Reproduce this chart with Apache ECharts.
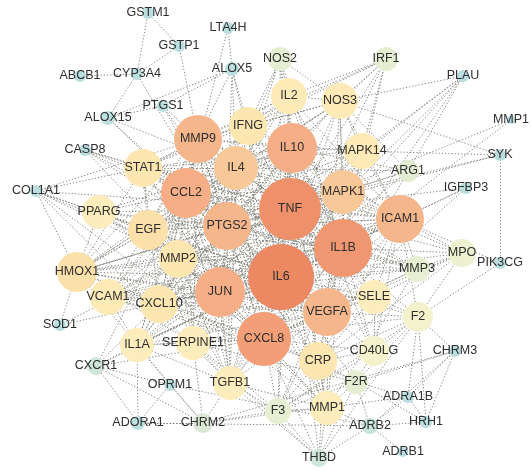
<!DOCTYPE html>
<html>
<head>
<meta charset="utf-8">
<script src="https://cdn.jsdelivr.net/npm/echarts@6/dist/echarts.min.js"></script>
<style>
html,body{margin:0;padding:0;background:#fff;}
#chart{width:531px;height:471px;}
</style>
</head>
<body>
<div id="chart"></div>
<script>
// Node table: [id, label, x, y, degree]
const geneNodes = [
  ["GSTM1","GSTM1",148,13,6],
  ["LTA4H","LTA4H",228,28,6],
  ["GSTP1","GSTP1",179,46,6],
  ["ALOX5","ALOX5",232,69,8],
  ["ABCB1","ABCB1",80,76,6],
  ["CYP3A4","CYP3A4",137,74,6],
  ["PTGS1","PTGS1",163,106,6],
  ["ALOX15","ALOX15",108,118,8],
  ["CASP8","CASP8",85,150,6],
  ["COL1A1","COL1A1",36,191,6],
  ["NOS2","NOS2",280,59,18],
  ["IRF1","IRF1",386,59,18],
  ["PLAU","PLAU",463,76,6],
  ["IL2","IL2",289,96,30],
  ["NOS3","NOS3",340,101,30],
  ["MMP1_top","MMP1",511,120,2],
  ["SYK","SYK",500,155,6],
  ["MMP9","MMP9",198,139,42],
  ["IFNG","IFNG",248,126,32],
  ["IL10","IL10",292,148,44],
  ["MAPK14","MAPK14",362,151,30],
  ["IL4","IL4",236,168,38],
  ["ARG1","ARG1",408,171,16],
  ["IGFBP3","IGFBP3",466,188,6],
  ["STAT1","STAT1",143,168,32],
  ["CCL2","CCL2",186,193,44],
  ["TNF","TNF",290,209,56],
  ["MAPK1","MAPK1",343,192,38],
  ["ICAM1","ICAM1",400,219,42],
  ["PPARG","PPARG",99,212,28],
  ["EGF","EGF",148,230,34],
  ["PTGS2","PTGS2",227,226,42],
  ["IL1B","IL1B",343,248,52],
  ["MPO","MPO",462,253,22],
  ["PIK3CG","PIK3CG",500,263,6],
  ["MMP3","MMP3",417,269,20],
  ["HMOX1","HMOX1",77,272,34],
  ["MMP2","MMP2",178,259,32],
  ["IL6","IL6",281,277,60],
  ["JUN","JUN",220,292,44],
  ["VEGFA","VEGFA",327,312,42],
  ["SELE","SELE",374,297,28],
  ["VCAM1","VCAM1",108,297,30],
  ["CXCL10","CXCL10",159,304,32],
  ["SOD1","SOD1",60,325,6],
  ["F2","F2",418,317,24],
  ["IL1A","IL1A",137,345,28],
  ["SERPINE1","SERPINE1",193,343,28],
  ["CXCL8","CXCL8",264,339,48],
  ["CD40LG","CD40LG",374,351,24],
  ["CHRM3","CHRM3",455,351,6],
  ["CXCR1","CXCR1",96,366,12],
  ["CRP","CRP",318,361,32],
  ["OPRM1","OPRM1",170,385,6],
  ["TGFB1","TGFB1",230,383,28],
  ["F2R","F2R",356,382,18],
  ["ADRA1B","ADRA1B",408,397,6],
  ["ADORA1","ADORA1",138,423,8],
  ["CHRM2","CHRM2",203,423,14],
  ["F3","F3",278,411,20],
  ["MMP1","MMP1",327,408,28],
  ["HRH1","HRH1",426,422,6],
  ["ADRB2","ADRB2",370,426,10],
  ["ADRB1","ADRB1",403,452,4],
  ["THBD","THBD",319,458,12]
];

// Interactions: "SOURCE: target target ..."
const interactions = [
  "TNF: IL6 IL1B CXCL8 IL10 VEGFA JUN CCL2 PTGS2 MMP9 ICAM1 MAPK1 IL4 IL2 IFNG NOS3 NOS2 MAPK14 STAT1 EGF MMP2 HMOX1 VCAM1 CXCL10 IL1A SERPINE1 TGFB1 CRP MMP1 SELE PPARG MMP3 MPO F3 CD40LG F2 ARG1 IRF1 CASP8 SOD1 PLAU IGFBP3 THBD COL1A1 SYK MMP1_top",
  "IL6: IL1B CXCL8 IL10 VEGFA JUN CCL2 PTGS2 MMP9 ICAM1 MAPK1 IL4 IL2 IFNG NOS3 NOS2 MAPK14 STAT1 EGF MMP2 HMOX1 VCAM1 CXCL10 IL1A SERPINE1 TGFB1 CRP MMP1 SELE PPARG MMP3 MPO F3 CD40LG F2 F2R ARG1 IRF1 CASP8 SOD1 PLAU IGFBP3 CXCR1 COL1A1 ALOX5 PTGS1",
  "IL1B: CXCL8 IL10 VEGFA JUN CCL2 PTGS2 MMP9 ICAM1 MAPK1 IL4 IL2 IFNG NOS3 NOS2 MAPK14 STAT1 EGF MMP2 HMOX1 VCAM1 CXCL10 IL1A SERPINE1 TGFB1 CRP MMP1 SELE PPARG MMP3 MPO F3 CD40LG CASP8 IRF1 PLAU",
  "CXCL8: IL10 VEGFA JUN CCL2 PTGS2 MMP9 ICAM1 MAPK1 IL4 IFNG STAT1 EGF MMP2 HMOX1 VCAM1 CXCL10 IL1A SERPINE1 TGFB1 CRP MMP1 SELE PPARG MMP3 MPO F3 CD40LG F2R CXCR1 THBD",
  "IL10: VEGFA JUN CCL2 PTGS2 MMP9 ICAM1 MAPK1 IL4 IL2 IFNG NOS3 NOS2 MAPK14 STAT1 EGF HMOX1 VCAM1 CXCL10 IL1A TGFB1 CRP SELE PPARG ARG1 IRF1 CD40LG",
  "VEGFA: JUN CCL2 PTGS2 MMP9 ICAM1 MAPK1 IL4 NOS3 MAPK14 STAT1 EGF MMP2 HMOX1 VCAM1 CXCL10 IL1A SERPINE1 TGFB1 CRP MMP1 SELE PPARG MMP3 F3 F2 IGFBP3 PLAU THBD COL1A1",
  "JUN: CCL2 PTGS2 MMP9 ICAM1 MAPK1 IL4 MAPK14 STAT1 EGF MMP2 HMOX1 VCAM1 CXCL10 IL1A SERPINE1 TGFB1 MMP1 SELE PPARG MMP3 IL2 IFNG CASP8",
  "CCL2: PTGS2 MMP9 ICAM1 MAPK1 IL4 IL2 IFNG STAT1 EGF MMP2 HMOX1 VCAM1 CXCL10 IL1A SERPINE1 TGFB1 CRP SELE PPARG MMP3 CXCR1 ALOX15 LTA4H",
  "PTGS2: MMP9 ICAM1 MAPK1 IL4 NOS3 NOS2 MAPK14 STAT1 EGF MMP2 HMOX1 VCAM1 CXCL10 IL1A SERPINE1 TGFB1 CRP MMP1 PPARG MMP3 PTGS1 ALOX15 ALOX5 CYP3A4 CASP8",
  "MMP9: ICAM1 MAPK1 IL4 IL2 IFNG NOS3 MAPK14 STAT1 EGF MMP2 HMOX1 VCAM1 CXCL10 IL1A SERPINE1 TGFB1 MMP1 MMP3 GSTP1 PTGS1 ALOX5 COL1A1 MPO",
  "ICAM1: MAPK1 IL4 IL2 IFNG NOS3 MAPK14 STAT1 EGF HMOX1 VCAM1 CXCL10 IL1A SELE CRP MPO CD40LG F2 PIK3CG IGFBP3 MMP3",
  "MAPK1: IL4 IL2 MAPK14 STAT1 EGF MMP2 HMOX1 CXCL10 IL1A TGFB1 SERPINE1 NOS3 ARG1 SYK",
  "IL4: IL2 IFNG STAT1 EGF HMOX1 VCAM1 CXCL10 IL1A TGFB1 NOS3 NOS2 ARG1 ALOX5 ALOX15",
  "IL2: IFNG NOS3 NOS2 STAT1 IRF1 CXCL10",
  "IFNG: NOS3 NOS2 STAT1 IRF1 CXCL10 ALOX5 VCAM1",
  "NOS3: NOS2 IRF1 ARG1 MAPK14 HMOX1 EGF PLAU SYK",
  "MAPK14: IRF1 STAT1 EGF SYK PLAU",
  "STAT1: EGF IRF1 CXCL10 CASP8 COL1A1 HMOX1",
  "EGF: MMP2 HMOX1 PPARG COL1A1 SERPINE1 TGFB1",
  "MMP2: HMOX1 VCAM1 CXCL10 TGFB1 SERPINE1 MMP1 MMP3 COL1A1 PPARG",
  "HMOX1: PPARG VCAM1 SOD1 COL1A1 CXCL10 IL1A SERPINE1",
  "VCAM1: CXCL10 SELE IL1A CRP",
  "CXCL10: IL1A CXCR1",
  "IL1A: SERPINE1 CXCR1 ADORA1 OPRM1 CHRM2 TGFB1",
  "SERPINE1: TGFB1 F3 THBD F2 F2R CHRM2 PLAU",
  "TGFB1: MMP1 F3 THBD CHRM2 COL1A1",
  "CRP: SELE MMP1 F3 F2 F2R CD40LG MPO",
  "MMP1: MMP3 F3 THBD F2R ADRB2 COL1A1",
  "SELE: F2 CD40LG MPO",
  "F2: F2R F3 THBD MPO PIK3CG CD40LG CHRM3 HRH1 ADRA1B",
  "F2R: F3 CHRM3 ADRA1B ADRB2 HRH1 THBD CD40LG",
  "F3: THBD CHRM2 CD40LG",
  "CHRM2: ADORA1 OPRM1 CXCR1 CHRM3 ADRA1B",
  "ADORA1: OPRM1 CXCR1 ADRB2",
  "OPRM1: CXCR1 ADRB2",
  "ADRB2: ADRB1 ADRA1B HRH1 CHRM3 THBD",
  "ADRA1B: HRH1 CHRM3",
  "HRH1: CHRM3",
  "GSTM1: GSTP1 CYP3A4",
  "GSTP1: CYP3A4",
  "CYP3A4: ABCB1 ALOX15",
  "ALOX5: LTA4H ALOX15 PTGS1",
  "PTGS1: ALOX15",
  "PIK3CG: SYK",
  "MMP1_top: IL1B",
  "MPO: MMP3"
];

// Colour ramp by degree (Cytoscape-like continuous mapping)
const colorStops = [
  [4,'#b8dde0'],[8,'#bcdfdf'],[12,'#d0e6d8'],[16,'#e2ecd3'],[20,'#e7efd2'],
  [24,'#f3f2cc'],[28,'#fdedbc'],[32,'#fde6b0'],[36,'#fbd9a2'],[38,'#f9c898'],
  [42,'#f6b68c'],[48,'#f29f78'],[60,'#ec8862']
];
function hex2rgb(h){return [parseInt(h.substr(1,2),16),parseInt(h.substr(3,2),16),parseInt(h.substr(5,2),16)];}
function colorFor(d){
  if(d<=colorStops[0][0]) return colorStops[0][1];
  for(let i=1;i<colorStops.length;i++){
    if(d<=colorStops[i][0]){
      const [d0,c0]=colorStops[i-1],[d1,c1]=colorStops[i];
      const t=(d-d0)/(d1-d0), a=hex2rgb(c0), b=hex2rgb(c1);
      return 'rgb('+a.map((v,k)=>Math.round(v+(b[k]-v)*t)).join(',')+')';
    }
  }
  return colorStops[colorStops.length-1][1];
}

const nodeData = geneNodes.map(([id,label,x,y,deg])=>({
  id:id, name:label, value:[x,y],
  symbolSize: 6+deg,
  itemStyle:{color:colorFor(deg)}
}));

const seen = {};
const linkData = [];
interactions.forEach(s=>{
  const [src,rest]=s.split(':');
  rest.trim().split(/\s+/).forEach(t=>{
    const key=[src.trim(),t].sort().join('|');
    if(!seen[key]){seen[key]=1;linkData.push({source:src.trim(),target:t});}
  });
});

const chart = echarts.init(document.getElementById('chart'));
chart.setOption({
  backgroundColor:'#ffffff',
  animation:false,
  grid:{left:0,right:0,top:0,bottom:0},
  xAxis:{type:'value',min:0,max:531,show:false},
  yAxis:{type:'value',min:0,max:471,inverse:true,show:false},
  series:[{
    type:'graph',
    coordinateSystem:'cartesian2d',
    data:nodeData,
    links:linkData,
    symbol:'circle',
    label:{show:true,position:'inside',fontSize:12.5,color:'#2e2e2e',fontFamily:'Liberation Sans, Arial, sans-serif'},
    lineStyle:{color:'#7c7c74',width:1,type:[1.3,1.9],opacity:0.9,curveness:0},
    itemStyle:{borderWidth:0},
    emphasis:{disabled:true}
  }]
});
</script>
</body>
</html>
